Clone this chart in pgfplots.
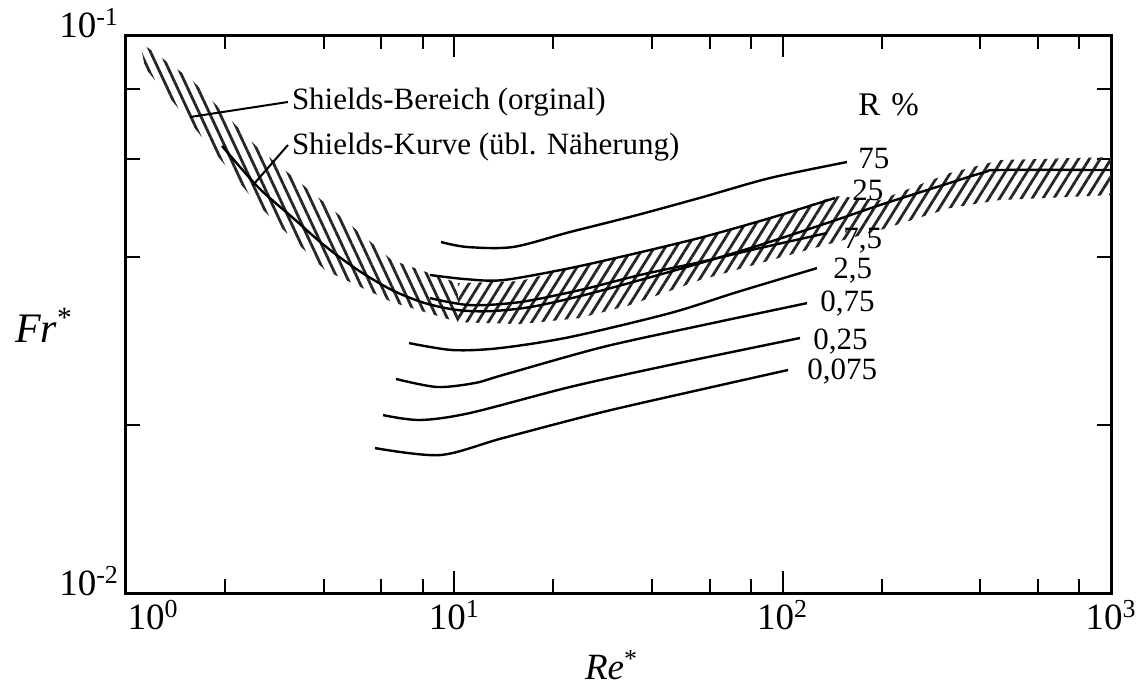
\documentclass[border=0pt]{standalone}
\usepackage{fontspec}
\setmainfont{Liberation Serif}
\usepackage{pgfplots}
\pgfplotsset{compat=1.18}
\usetikzlibrary{patterns.meta,calc}
\newcommand{\tfont}{\fontsize{18.5}{20}\selectfont}
\newcommand{\afont}{\fontsize{15.5}{17}\selectfont}
\begin{document}
\begin{tikzpicture}
\begin{axis}[
  xmode=log, ymode=log,
  scale only axis, width=492.5pt, height=279pt,
  xmin=1, xmax=1000, ymin=0.01, ymax=0.1,
  axis line style={line width=1.5pt},
  xtick={10,100,1000},
  xticklabels={10\textsuperscript{1},10\textsuperscript{2},10\textsuperscript{3}},
  extra x ticks={1}, extra x tick labels={10\textsuperscript{0}},
  extra x tick style={xticklabel style={xshift=13.5pt}},
  minor xtick={2,4,6,8,20,40,60,80,200,400,600,800},
  ytick={0.01,0.1},
  yticklabels={10\textsuperscript{-2},10\textsuperscript{-1}},
  minor ytick={0.02,0.04,0.06,0.08},
  tick align=inside,
  major tick length=11pt, minor tick length=7pt,
  tick style={line width=1pt, black},
  xticklabel style={font=\tfont},
  yticklabel style={font=\tfont, yshift=6pt},
  xlabel={\textit{Re}\textsuperscript{*}},
  ylabel={\textit{Fr}\textsuperscript{*}},
  xlabel style={font=\tfont, at={(rel axis cs:0.493,0)}, anchor=center, yshift=-36pt},
  ylabel style={font=\fontsize{21}{23}\selectfont, rotate=-90, at={(rel axis cs:0,0.48)}, anchor=center, xshift=-41pt},
  every axis plot/.append style={black, line width=1.2pt},
]
% Shields range (hatched band), descending part
\addplot[draw=none, pattern={Lines[angle=-65,distance=4.6pt,line width=1.4pt]}, pattern color=black!85]
 coordinates {(1.103,0.09715) (1.589,0.08307) (2.523,0.06274) (4.038,0.04999) (6.459,0.03950) (10.26,0.03593)
              (10.26,0.03058) (6.459,0.03322) (4.038,0.03790) (2.523,0.04958) (1.589,0.06898) (1.143,0.08726)} -- cycle;
% Shields range, rising part
\addplot[draw=none, pattern={Lines[angle=58,distance=4.6pt,line width=1.4pt]}, pattern color=black!85]
 coordinates {(10.26,0.03593) (15.85,0.03623) (22.51,0.03822) (36.01,0.04067) (57.20,0.04345) (91.50,0.04698)
              (144.4,0.05146) (197.9,0.05062) (323.3,0.05659) (459.2,0.05970) (1000,0.06044)
              (1000,0.05167) (459.2,0.05062) (323.3,0.04897) (197.9,0.04472) (112.9,0.04084) (56.01,0.03638)
              (34.28,0.03281) (24.14,0.03110) (15.85,0.03034) (10.26,0.03058)} -- cycle;
% Shields curve
\addplot[smooth] coordinates {(1.961,0.06327) (2.523,0.05341) (3.203,0.04718) (4.038,0.04187) (5.090,0.03790)
  (6.459,0.03491) (8.141,0.03308) (10.26,0.03214) (12.84,0.03200) (17.00,0.03254) (24.14,0.03405)
  (36.77,0.03638) (56.01,0.03901) (85.30,0.04204) (139.4,0.04622) (197.9,0.04958) (301.4,0.05363)
  (413.3,0.05682) (459.2,0.05729) (1000,0.05729)};
% R = 75
\addplot[smooth] coordinates {(9.109,0.04256) (10.93,0.04170) (15.09,0.04170) (22.51,0.04436) (36.01,0.04757)
  (57.20,0.05125) (91.50,0.05543) (157.0,0.05921)};
% R = 25
\addplot[smooth] coordinates {(8.434,0.03715) (10.78,0.03653) (14.07,0.03638) (22.51,0.03822) (36.01,0.04067)
  (57.20,0.04345) (91.50,0.04698) (144.4,0.05104)};
% R = 7.5
\addplot[smooth] coordinates {(8.434,0.03377) (11.16,0.03281) (15.85,0.03322) (24.14,0.03491) (36.77,0.03715)
  (56.01,0.03918) (85.30,0.04152) (136.5,0.04417)};
% R = 2.5
\addplot[smooth] coordinates {(7.277,0.02805) (9.908,0.02725) (13.78,0.02748) (22.51,0.02876) (45.39,0.03174)
  (72.61,0.03462) (127.2,0.03822)};
% R = 0.75
\addplot[smooth] coordinates {(6.642,0.02419) (8.858,0.02340) (11.56,0.02379) (14.07,0.02459) (28.37,0.02760)
  (57.20,0.03021) (118.6,0.03308)};
% R = 0.25
\addplot[smooth] coordinates {(6.062,0.02084) (7.861,0.02042) (11.16,0.02102) (22.51,0.02340) (45.39,0.02563)
  (112.9,0.02864)};
% R = 0.075
\addplot[smooth] coordinates {(5.734,0.01819) (9.045,0.01767) (14.07,0.01896) (28.37,0.02111) (57.20,0.02320)
  (103.8,0.02510)};
% leader lines
\addplot[line width=1pt] coordinates {(1.566,0.07129) (3.114,0.07586)};
\addplot[line width=1pt] coordinates {(2.437,0.05385) (3.114,0.06353)};
% annotations
\node[anchor=west, inner sep=1pt, font=\afont] at (axis cs:3.15,0.07586) {Shields-Bereich (orginal)};
\node[anchor=west, inner sep=1pt, font=\afont] at (axis cs:3.15,0.06301) {Shields-Kurve (übl. Näherung)};
\node[anchor=west, inner sep=0pt, font=\fontsize{16.5}{18}\selectfont] at (axis cs:169.6,0.07492) {R\,\,\%};
\node[anchor=west, inner sep=0pt, font=\afont] at (axis cs:169.6,0.06020) {75};
\node[anchor=west, inner sep=0pt, font=\afont] at (axis cs:162.6,0.05276) {25};
\node[anchor=west, inner sep=0pt, font=\afont] at (axis cs:152.7,0.04273) {7,5};
\node[anchor=west, inner sep=0pt, font=\afont] at (axis cs:142.3,0.03790) {2,5};
\node[anchor=west, inner sep=0pt, font=\afont] at (axis cs:129.9,0.03308) {0,75};
\node[anchor=west, inner sep=0pt, font=\afont] at (axis cs:123.7,0.02817) {0,25};
\node[anchor=west, inner sep=0pt, font=\afont] at (axis cs:118.6,0.02489) {0,075};
\end{axis}
\pgfresetboundingbox
\path[use as bounding box] ($(current axis.south west)+(-63pt,-47pt)$) rectangle ($(current axis.north east)+(16.5pt,17.5pt)$);
\end{tikzpicture}
\end{document}
